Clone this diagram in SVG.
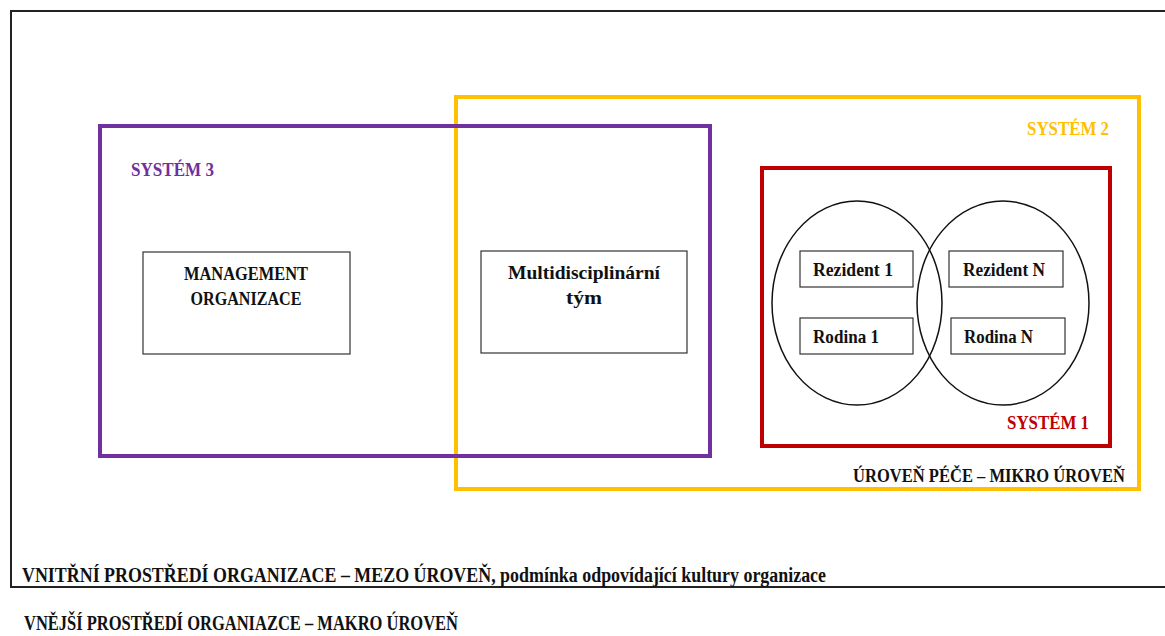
<svg xmlns="http://www.w3.org/2000/svg" width="1165" height="636" viewBox="0 0 1165 636">
<style>
text{font-family:"Liberation Serif","DejaVu Serif",serif;font-size:19px;font-weight:bold;fill:#111}
.box{fill:#fff;stroke:#333;stroke-width:1.2}
.sys{fill:none;stroke-width:4}
.ell{fill:none;stroke:#111;stroke-width:1.5}
.c{text-anchor:middle}
.e{text-anchor:end}
.reg{font-size:20px}
</style>
<rect width="1165" height="636" fill="#fff"/>
<g id="outer-env">
<path d="M1170 11 H11 V587 H1170" fill="none" stroke="#222" stroke-width="2"/>
<text class="reg" x="22" y="582" textLength="804" lengthAdjust="spacingAndGlyphs">VNITŘNÍ PROSTŘEDÍ ORGANIZACE – MEZO ÚROVEŇ, podmínka odpovídající kultury organizace</text>
<text class="reg" x="24" y="630" textLength="434" lengthAdjust="spacingAndGlyphs">VNĚJŠÍ PROSTŘEDÍ ORGANIAZCE – MAKRO ÚROVEŇ</text>
</g>
<g id="system2">
<rect class="sys" x="456" y="97" width="683" height="392" stroke="#FFC000"/>
<text class="e" x="1109" y="135" style="fill:#FFC000" textLength="82" lengthAdjust="spacingAndGlyphs">SYSTÉM 2</text>
<text class="e" x="1125" y="482" textLength="272" lengthAdjust="spacingAndGlyphs">ÚROVEŇ PÉČE – MIKRO ÚROVEŇ</text>
</g>
<g id="system3">
<rect class="sys" x="100" y="126" width="610" height="330" stroke="#7030A0"/>
<text x="131" y="176" style="fill:#7030A0" textLength="83" lengthAdjust="spacingAndGlyphs">SYSTÉM 3</text>
</g>
<g id="system1">
<rect class="sys" x="762" y="168" width="348" height="278" stroke="#C00000"/>
<text class="e" x="1089" y="429" style="fill:#C00000" textLength="82" lengthAdjust="spacingAndGlyphs">SYSTÉM 1</text>
</g>
<g id="management">
<rect class="box" x="143" y="252" width="207" height="102"/>
<text class="c" x="246" y="280" textLength="124" lengthAdjust="spacingAndGlyphs">MANAGEMENT</text>
<text class="c" x="246" y="305" textLength="111" lengthAdjust="spacingAndGlyphs">ORGANIZACE</text>
</g>
<g id="multidisciplinarni-tym">
<rect class="box" x="481" y="251" width="206" height="102"/>
<text class="c" x="584" y="279" textLength="152" lengthAdjust="spacingAndGlyphs">Multidisciplinární</text>
<text class="c" x="584" y="304" textLength="36" lengthAdjust="spacingAndGlyphs">tým</text>
</g>
<g id="circle-1">
<ellipse class="ell" cx="857" cy="303" rx="85" ry="102"/>
</g>
<g id="circle-n">
<ellipse class="ell" cx="1003" cy="303" rx="86" ry="102"/>
</g>
<g id="rezident-1">
<rect class="box" x="800" y="251" width="113" height="36"/>
<text x="813" y="276" textLength="80" lengthAdjust="spacingAndGlyphs">Rezident 1</text>
</g>
<g id="rodina-1">
<rect class="box" x="800" y="318" width="113" height="36"/>
<text x="813" y="343" textLength="66" lengthAdjust="spacingAndGlyphs">Rodina 1</text>
</g>
<g id="rezident-n">
<rect class="box" x="949" y="251" width="114" height="36"/>
<text x="963" y="276" textLength="82" lengthAdjust="spacingAndGlyphs">Rezident N</text>
</g>
<g id="rodina-n">
<rect class="box" x="951" y="318" width="114" height="36"/>
<text x="964" y="343" textLength="69" lengthAdjust="spacingAndGlyphs">Rodina N</text>
</g>
<g id="connectors"/>
</svg>
